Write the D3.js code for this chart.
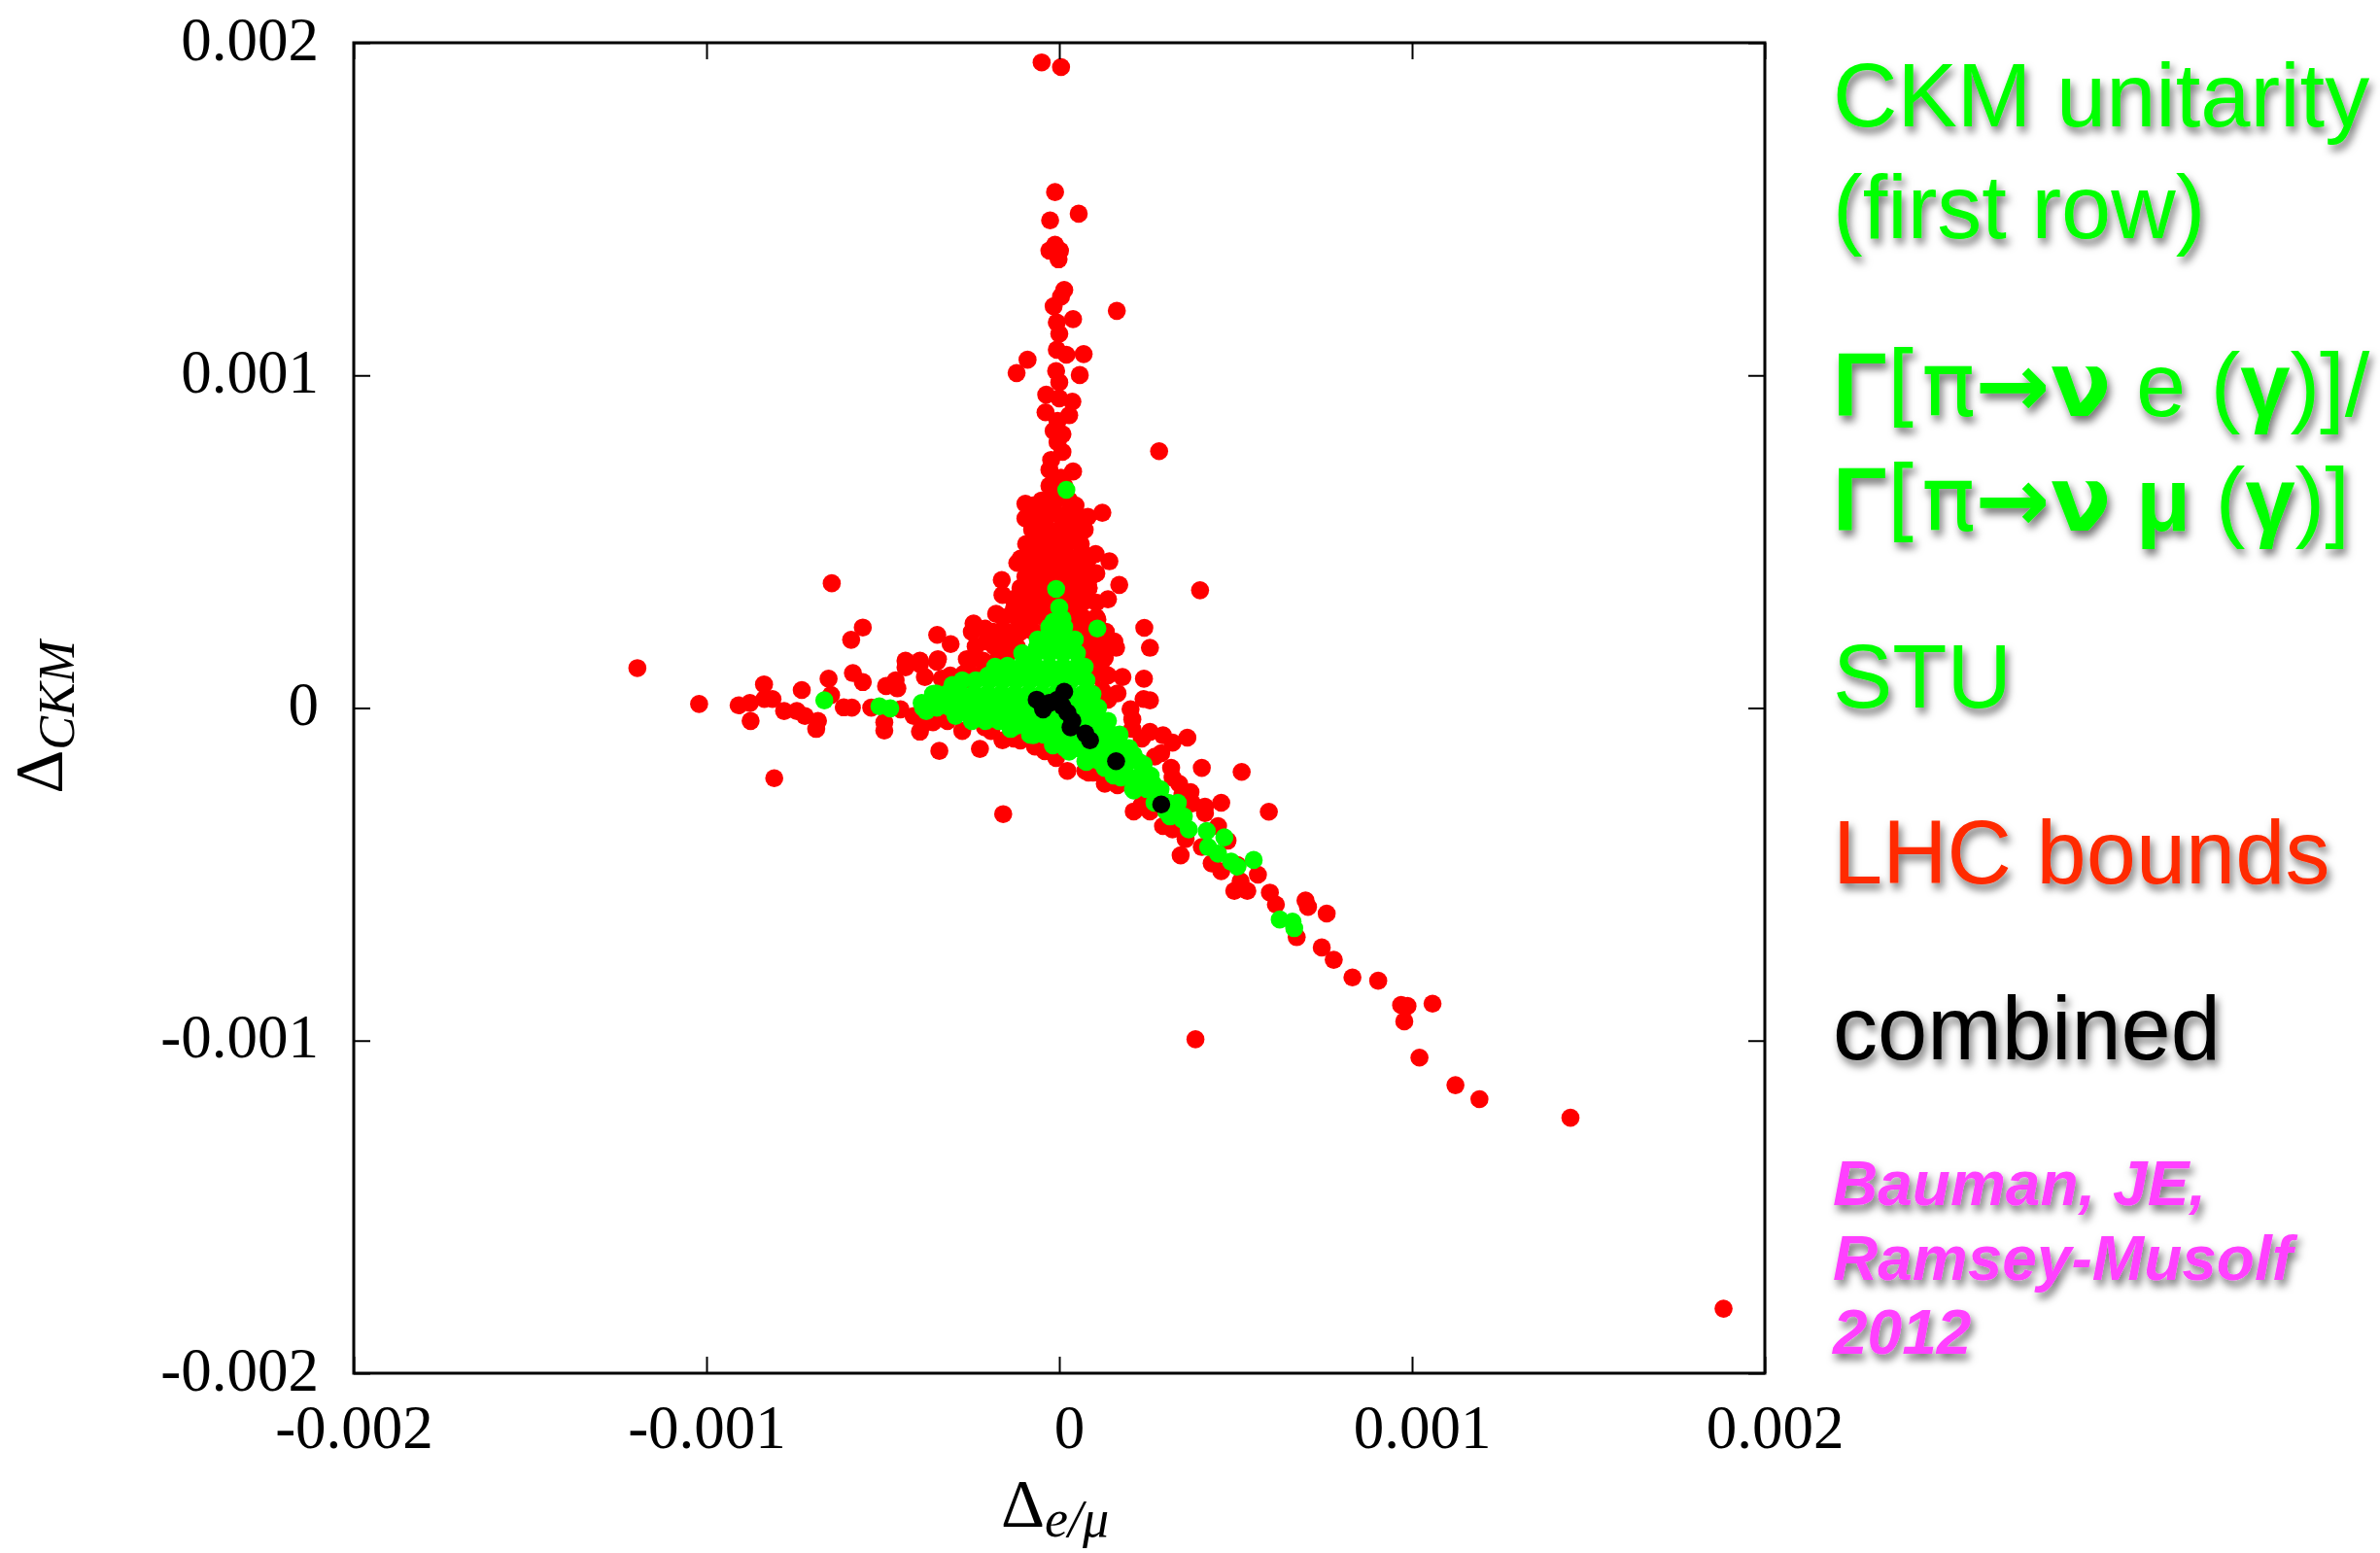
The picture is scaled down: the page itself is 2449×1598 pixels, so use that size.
<!DOCTYPE html>
<html>
<head>
<meta charset="utf-8">
<script src="https://cdn.jsdelivr.net/npm/d3@7"></script>
<style>
body { margin: 0; background: #fff; }
</style>
</head>
<body>
<div id="chart"></div>
<script>
// all point values are in units of 1e-3
var unit = 0.001;

var xTicks = [-0.002, -0.001, 0, 0.001, 0.002];
var yTicks = [-0.002, -0.001, 0, 0.001, 0.002];

// LHC bounds
var redPts = [
    [-0.050,1.941],[0.005,1.927],[-0.012,1.551],[0.055,1.486],[-0.026,1.466],[-0.012,1.393],[-0.028,1.375],[0.002,1.375],
    [-0.002,1.349],[0.014,1.257],[0.005,1.237],[-0.016,1.208],[0.163,1.194],[0.039,1.169],[-0.007,1.159],[0,1.125],
    [-0.007,1.077],[0.020,1.062],[0.069,1.064],[-0.090,1.047],[-0.121,1.007],[-0.009,1.013],[0.058,1.001],[0,0.979],
    [-0.037,0.942],[0,0.931],[0.037,0.921],[-0.039,0.889],[0.028,0.880],[-0.005,0.863],[-0.016,0.833],[0.009,0.823],
    [-0.005,0.799],[0.009,0.770],[-0.023,0.746],[-0.028,0.716],[0.039,0.711],[0.283,0.772],[0.005,0.692],[-0.018,0.663],
    [-0.096,0.614],[-0.074,0.609],[0.046,0.609],[-0.096,0.570],[0.081,0.575],[0.122,0.587],[-0.028,0.590],[0.009,0.570],
    [0.037,0.551],[-0.037,0.531],[0.028,0.512],[-0.074,0.502],[-0.028,0.483],[0.064,0.468],[0.103,0.463],[0.142,0.441],
    [-0.119,0.436],[-0.083,0.463],[0,0.444],[0.055,0.424],[-0.046,0.419],[-0.096,0.395],[-0.163,0.385],[0.087,0.392],
    [0.170,0.370],[0.399,0.354],[-0.064,0.375],[0.083,0.361],[-0.161,0.340],[-0.121,0.332],[0.138,0.327],[-0.074,0.337],
    [0.064,0.327],[-0.179,0.283],[-0.129,0.297],[-0.243,0.254],[-0.211,0.239],[-0.248,0.229],[-0.346,0.220],[-0.308,0.192],
    [-0.185,0.186],[0.241,0.241],[0.257,0.181],[0.108,0.266],[0.156,0.200],[0.110,0.191],[-0.138,0.200],[-0.101,0.239],
    [0.083,0.239],[0.046,0.278],[-0.395,0.142],[-0.344,0.147],[-0.262,0.147],[-0.216,0.142],[-0.147,0.161],[-0.436,0.142],
    [-0.041,0.551],[0,0.536],[0.041,0.507],[-0.055,0.463],[-0.014,0.478],[0.028,0.449],[-0.069,0.405],[-0.028,0.390],
    [0.014,0.405],[0.055,0.375],[-0.055,0.346],[-0.014,0.332],[0.028,0.317],[-0.041,0.288],[0,0.273],[-0.083,0.259],
    [0.041,0.259],[-0.028,0.229],[0.014,0.215],[-0.055,0.200],[0.069,0.200],[-0.083,0.302],[-0.110,0.273],[-0.165,0.229],
    [-0.207,0.200],[-0.124,0.229],
    // spike base, dense part
    [-0.028,0.668],[0.014,0.668],
    [-0.050,0.624],[-0.011,0.624],[0.028,0.624],
    [-0.066,0.580],[-0.028,0.580],[0.011,0.580],[0.050,0.580],
    [-0.077,0.536],[-0.039,0.536],[0,0.536],[0.039,0.536],[0.072,0.536],
    [-0.094,0.493],[-0.055,0.493],[-0.017,0.493],[0.022,0.493],[0.061,0.493],
    [-0.110,0.449],[-0.072,0.449],[-0.033,0.449],[0.006,0.449],[0.044,0.449],[0.083,0.449],
    [-0.088,0.405],[-0.050,0.405],[-0.011,0.405],[0.028,0.405],[0.066,0.405],[0.105,0.405],
    [-0.110,0.361],[-0.072,0.361],[-0.033,0.361],[0.006,0.361],[0.044,0.361],[0.083,0.361],
    [-0.127,0.317],[-0.088,0.317],[-0.050,0.317],[-0.011,0.317],[0.028,0.317],[0.066,0.317],[0.105,0.317],
    [-0.160,0.273],[-0.121,0.273],[-0.083,0.273],[-0.044,0.273],[0.028,0.273],[0.066,0.273],[0.105,0.273],
    [-0.187,0.229],[-0.149,0.229],[-0.110,0.229],[-0.072,0.229],[0.055,0.229],[0.094,0.229],[0.132,0.229],
    [-0.237,0.185],[-0.160,0.185],[-0.121,0.185],[0.066,0.185],[0.105,0.185],[0.143,0.185],
    [-0.253,0.142],[-0.176,0.142],[0.083,0.142],[0.121,0.142],
    [-0.309,0.098],[-0.231,0.098],[0.099,0.098],[0.138,0.098],
    [0.121,0.054],
    // left arm
    [-1.196,0.120],[-0.645,0.375],[-0.557,0.242],[-0.590,0.205],[-1.021,0.012],[-0.909,0.008],[-0.877,0.015],[-0.837,0.071],
    [-0.836,0.027],[-0.813,0.027],[-0.875,-0.039],[-0.780,-0.009],[-0.744,-0.009],[-0.730,0.054],[-0.721,-0.024],[-0.684,-0.039],
    [-0.689,-0.063],[-0.654,0.088],[-0.647,0.039],[-0.611,0.002],[-0.588,0.001],[-0.585,0.105],[-0.557,0.078],[-0.533,0.001],
    [-0.491,0.066],[-0.464,0.083],[-0.459,0.059],[-0.496,-0.043],[-0.496,-0.068],[-0.450,-0.004],[-0.436,0.122],[-0.413,-0.024],
    [-0.395,-0.071],[-0.395,0.132],[-0.381,0.093],[-0.347,0.139],[-0.333,0.088],[-0.271,0.103],[-0.340,-0.129],[-0.225,-0.123],
    [-0.358,-0.043],[-0.317,-0.039],[-0.211,-0.058],[-0.161,-0.097],[-0.129,-0.092],[-0.069,-0.116],[-0.009,-0.150],[0.023,-0.189],
    [0.074,-0.189],[-0.808,-0.211],[-0.159,-0.319],[-0.184,0.122],[-0.248,0.083],
    [-0.386,-0.048],[-0.275,-0.069],[-0.193,-0.069],[-0.110,-0.098],[-0.041,-0.130],[0.096,-0.194],[0.165,-0.232],[0.234,-0.291],
    // lower right arm
    [0.161,0.181],[0.129,0.151],[0.179,0.093],[0.240,0.088],[0.129,0.103],[0.165,0.044],[0.239,0.027],[0.257,0.023],
    [0.202,-0.004],[0.138,0.025],[0.207,-0.063],[0.257,-0.072],[0.294,-0.082],[0.321,-0.104],[0.363,-0.089],[0.271,-0.146],
    [0.404,-0.180],[0.517,-0.192],[0.321,-0.209],[0.340,-0.228],[0.083,-0.194],[0.129,-0.228],[0.211,-0.311],[0.257,-0.311],
    [0.349,-0.262],[0.377,-0.287],[0.459,-0.285],[0.594,-0.312],[0.294,-0.355],[0.321,-0.365],[0.413,-0.316],[0.450,-0.355],
    [0.344,-0.443],[0.358,-0.394],[0.404,-0.418],[0.477,-0.399],[0.432,-0.467],[0.459,-0.491],[0.505,-0.472],[0.496,-0.550],
    [0.533,-0.550],[0.514,-0.521],[0.563,-0.501],[0.597,-0.555],[0.614,-0.591],[0.698,-0.579],[0.705,-0.598],[0.758,-0.618],
    [0.673,-0.689],[0.744,-0.720],[0.778,-0.757],[0.831,-0.810],[0.904,-0.820],[0.969,-0.893],[0.987,-0.896],[0.978,-0.942],
    [1.058,-0.889],[1.021,-1.051],[1.123,-1.134],[1.191,-1.176],[1.449,-1.232],[0.386,-0.996],[1.883,-1.806],
    [0.207,-0.034],[0.234,-0.092],[0.289,-0.136],[0.317,-0.180],[0.372,-0.253],[0.413,-0.297]
];

// CKM unitarity, pion ratio and STU
var greenPts = [
    [0.020,0.656],[-0.009,0.358],[0.009,0.268],[-0.028,0.239],[0.108,0.239],[0,0.200],[0.018,0.171],[-0.083,0.151],
    [0,0.302],[-0.017,0.259],
    [-0.666,0.023],[-0.510,0.005],[-0.479,-0.001],
    [-0.390,0.015],[-0.377,-0.009],[-0.349,0.044],[-0.303,0.069],[-0.294,-0.024],[-0.248,-0.034],[-0.202,0.098],[-0.147,0.127],
    [-0.101,0.151],[-0.064,0.181],[-0.018,0.210],[-0.193,-0.024],[-0.138,-0.063],[-0.074,-0.082],[-0.018,-0.112],[0.028,-0.131],
    [0.074,-0.160],[0.046,0.112],[0.055,0.025],[0.064,-0.053],
    [0.156,-0.092],[0.184,-0.121],[0.211,-0.141],[0.239,-0.170],[0.229,-0.209],[0.266,-0.228],[0.285,-0.248],[0.211,-0.248],
    [0.174,-0.209],[0.129,-0.180],[0.092,-0.141],[0.046,-0.112],[-0.119,-0.053],
    // solid core
    [-0.028,0.244],[0.014,0.244],
    [-0.061,0.206],[-0.022,0.206],[0.017,0.206],[0.044,0.206],
    [-0.105,0.165],[-0.066,0.165],[-0.028,0.165],[0.011,0.165],[0.050,0.165],
    [-0.182,0.124],[-0.143,0.124],[-0.105,0.124],[-0.066,0.124],[-0.028,0.124],[0.011,0.124],[0.050,0.124],[0.072,0.124],
    [-0.275,0.083],[-0.237,0.083],[-0.198,0.083],[-0.160,0.083],[-0.121,0.083],[-0.083,0.083],[-0.044,0.083],[-0.006,0.083],[0.033,0.083],[0.077,0.083],
    [-0.358,0.042],[-0.320,0.042],[-0.281,0.042],[-0.242,0.042],[-0.204,0.042],[-0.165,0.042],[-0.127,0.042],[-0.088,0.042],[-0.050,0.042],[-0.011,0.042],[0.028,0.042],[0.066,0.042],[0.094,0.042],
    [-0.386,0.001],[-0.347,0.001],[-0.309,0.001],[-0.270,0.001],[-0.231,0.001],[-0.193,0.001],[-0.154,0.001],[-0.116,0.001],[-0.077,0.001],[-0.039,0.001],[0,0.001],[0.039,0.001],[0.077,0.001],[0.110,0.001],
    [-0.248,-0.039],[-0.209,-0.039],[-0.171,-0.039],[-0.132,-0.039],[-0.094,-0.039],[-0.055,-0.039],[-0.017,-0.039],[0.022,-0.039],[0.061,-0.039],[0.099,-0.039],[0.138,-0.039],
    [-0.083,-0.080],[-0.044,-0.080],[-0.006,-0.080],[0.033,-0.080],[0.072,-0.080],[0.110,-0.080],[0.149,-0.080],[0.171,-0.080],
    [0.017,-0.121],[0.055,-0.121],[0.094,-0.121],[0.132,-0.121],[0.171,-0.121],[0.198,-0.121],
    [0.077,-0.162],[0.116,-0.162],[0.154,-0.162],[0.193,-0.162],[0.226,-0.162],
    [0.154,-0.203],[0.193,-0.203],[0.231,-0.203],[0.259,-0.203],
    [0.209,-0.244],[0.248,-0.244],[0.287,-0.244],
    [0.270,-0.285],[0.309,-0.285],[0.336,-0.285],
    [0.314,-0.326],[0.353,-0.326],
    // lower right arm
    [0.321,-0.297],[0.303,-0.311],[0.349,-0.335],[0.367,-0.365],[0.418,-0.370],[0.468,-0.389],[0.422,-0.418],[0.450,-0.438],
    [0.487,-0.462],[0.505,-0.477],[0.551,-0.457],[0.625,-0.636],[0.661,-0.642],[0.666,-0.662]
];

// combined
var blackPts = [
    [-0.064,0.025],[-0.046,0.005],[-0.028,0.015],[-0.005,0.025],[0.014,0.049],[0.009,0.005],[0.023,-0.014],[0.037,-0.039],
    [0.032,-0.058],[0.074,-0.077],[0.087,-0.097],[0.161,-0.160],[0.289,-0.290],[-0.046,-0.004]
];

var ckmLines = ["CKM unitarity", "(first row)"];
var ratioLines = ["Γ[π→ν e (γ)]/", "Γ[π→ν μ (γ)]"];
var stuLabel = "STU";
var lhcLabel = "LHC bounds";
var combinedLabel = "combined";
var citeLines = ["Bauman, JE,", "Ramsey-Musolf", "2012"];

var margin = { top: 44, right: 633, bottom: 185, left: 364 };
var width = 2449 - margin.left - margin.right;
var height = 1598 - margin.top - margin.bottom;

var serif = "'Liberation Serif', 'DejaVu Serif', serif";
var sans = "'Liberation Sans', Arial, Helvetica, sans-serif";

var svg = d3.select("#chart")
    .append("svg")
    .attr("width", 2449)
    .attr("height", 1598);

var defs = svg.append("defs");
var shadow = defs.append("filter")
    .attr("id", "shadow")
    .attr("x", "-10%").attr("y", "-30%")
    .attr("width", "130%").attr("height", "180%");
shadow.append("feDropShadow")
    .attr("dx", 3).attr("dy", 6)
    .attr("stdDeviation", 4)
    .attr("flood-color", "#000")
    .attr("flood-opacity", 0.55);

var g = svg.append("g")
    .attr("transform", "translate(" + margin.left + "," + margin.top + ")");

var x = d3.scaleLinear().domain([-0.002, 0.002]).range([0, width]);
var y = d3.scaleLinear().domain([-0.002, 0.002]).range([height, 0]);

function drawPoints(data, color) {
    g.append("g")
        .selectAll("circle")
        .data(data)
        .enter()
        .append("circle")
        .attr("cx", function (d) { return x(d[0] * unit); })
        .attr("cy", function (d) { return y(d[1] * unit); })
        .attr("r", 9.3)
        .attr("fill", color);
}

drawPoints(redPts, "#ff0000");
drawPoints(greenPts, "#00ff00");
drawPoints(blackPts, "#000000");

function fmt(d) {
    return String(+d.toFixed(3));
}

// bottom axis
var xAxis = g.append("g")
    .attr("transform", "translate(0," + height + ")")
    .call(d3.axisBottom(x).tickValues(xTicks).tickSize(-17).tickFormat(fmt));
// left axis
var yAxis = g.append("g")
    .call(d3.axisLeft(y).tickValues(yTicks).tickSize(-17).tickFormat(fmt));
// mirrored ticks
var topAxis = g.append("g")
    .call(d3.axisTop(x).tickValues(xTicks).tickSize(-17).tickFormat(""));
var rightAxis = g.append("g")
    .attr("transform", "translate(" + width + ",0)")
    .call(d3.axisRight(y).tickValues(yTicks).tickSize(-17).tickFormat(""));

[xAxis, yAxis, topAxis, rightAxis].forEach(function (a) {
    a.select(".domain").remove();
    a.selectAll("line").attr("stroke", "#000").attr("stroke-width", 2);
});

xAxis.selectAll("text")
    .attr("y", 77)
    .attr("dy", 0)
    .attr("dx", function (d) { return d >= 0 ? 10 : 0; })
    .attr("fill", "#000")
    .style("font-family", serif)
    .style("font-size", "63px");

yAxis.selectAll("text")
    .attr("x", -36)
    .attr("y", 17)
    .attr("dy", 0)
    .attr("fill", "#000")
    .style("font-family", serif)
    .style("font-size", "63px");

// frame
g.append("rect")
    .attr("width", width)
    .attr("height", height)
    .attr("fill", "none")
    .attr("stroke", "#000")
    .attr("stroke-width", 3);

// axis titles
var xTitle = svg.append("text")
    .attr("x", 1030)
    .attr("y", 1571)
    .style("font-family", serif)
    .style("font-size", "70px");
xTitle.append("tspan").text("Δ");
xTitle.append("tspan")
    .attr("dy", 10)
    .style("font-style", "italic")
    .style("font-size", "54px")
    .text("e/μ");

var yTitle = svg.append("text")
    .attr("transform", "translate(64,738) rotate(-90)")
    .attr("text-anchor", "middle")
    .style("font-family", serif)
    .style("font-size", "70px");
yTitle.append("tspan").text("Δ");
yTitle.append("tspan")
    .attr("dy", 12)
    .style("font-style", "italic")
    .style("font-size", "52px")
    .text("CKM");

// legend text on the right
var legend = svg.append("g")
    .attr("filter", "url(#shadow)")
    .style("font-family", sans)
    .style("white-space", "pre");
var legendX = 1886;

function addLine(txt, yBase, color, size) {
    return legend.append("text")
        .attr("x", legendX)
        .attr("y", yBase)
        .attr("fill", color)
        .style("font-size", size + "px")
        .text(txt);
}

addLine(ckmLines[0], 130, "#00ff00", 92);
addLine(ckmLines[1], 245, "#00ff00", 92);

var boldChars = "Γ→νμγ";
function runs(s) {
    var out = [];
    for (const ch of s) {
        var b = boldChars.indexOf(ch) >= 0;
        if (out.length && out[out.length - 1].b === b) out[out.length - 1].t += ch;
        else out.push({ t: ch, b: b });
    }
    return out;
}
[428, 546].forEach(function (yy, i) {
    var t = legend.append("text")
        .attr("x", legendX)
        .attr("y", yy)
        .attr("fill", "#00ff00")
        .style("font-size", "92px");
    runs(ratioLines[i]).forEach(function (r) {
        var s = t.append("tspan")
            .style("font-weight", r.b ? "bold" : "normal")
            .text(r.t);
        if (r.t.indexOf("→") >= 0 || r.t.indexOf("π") >= 0) {
            s.style("font-family", "'DejaVu Sans', sans-serif");
        }
    });
});

addLine(stuLabel, 728, "#00ff00", 92);
addLine(lhcLabel, 909, "#ff2a00", 92);
addLine(combinedLabel, 1090, "#000000", 92);

[1240, 1317, 1393].forEach(function (yy, i) {
    addLine(citeLines[i], yy, "#ff40ff", 64)
        .style("font-weight", "bold")
        .style("font-style", "italic");
});
</script>
</body>
</html>
